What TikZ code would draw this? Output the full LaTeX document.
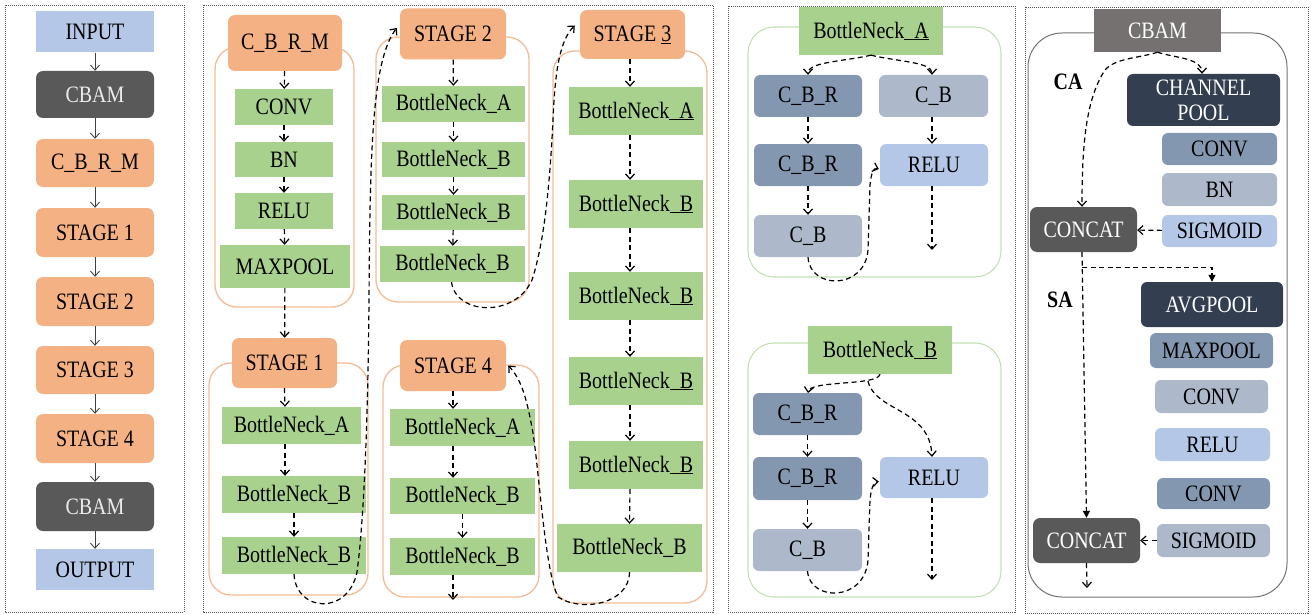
\documentclass[tikz,border=0pt]{standalone}
\usepackage{fontspec}
\setmainfont{Liberation Serif}[FakeStretch=0.85]
\usetikzlibrary{arrows.meta}

\definecolor{lblue}{HTML}{B4C7E7}
\definecolor{dgray}{HTML}{595959}
\definecolor{mgray}{HTML}{767171}
\definecolor{peach}{HTML}{F4B183}
\definecolor{peachline}{HTML}{F2BC96}
\definecolor{leaf}{HTML}{A9D18E}
\definecolor{leafline}{HTML}{C5E0B4}
\definecolor{slate}{HTML}{8497B0}
\definecolor{mist}{HTML}{ADB9CA}
\definecolor{navy}{HTML}{333F50}
\definecolor{frame}{HTML}{555555}

\tikzset{
  blk/.style={inner sep=0pt, font=\fontsize{23.5}{25}\selectfont, align=center, text=black},
  sz/.style 2 args={minimum width=#1pt, minimum height=#2pt},
  inout/.style={blk, fill=lblue},
  darkbox/.style={blk, fill=dgray, rounded corners=7pt, text=white},
  stagebox/.style={blk, fill=peach, rounded corners=7pt},
  layer/.style={blk, fill=leaf},
  slatebox/.style={blk, fill=slate, rounded corners=6pt},
  mistbox/.style={blk, fill=mist, rounded corners=6pt},
  skybox/.style={blk, fill=lblue, rounded corners=6pt},
  navybox/.style={blk, fill=navy, rounded corners=6pt, text=white},
  flow/.style={-{Straight Barb[length=5pt,width=9pt]}, line width=0.9pt, black!75},
  dflow/.style={-{Straight Barb[length=5pt,width=9pt]}, line width=1.2pt, black, dash pattern=on 5pt off 3.5pt},
  tflow/.style={-{Triangle[length=7pt,width=7pt]}, line width=1.2pt, black, dash pattern=on 5pt off 3.5pt},
  panel/.style={draw=frame, line width=0.8pt, dash pattern=on 1pt off 1pt},
  stagegroup/.style={draw=peachline, line width=1.3pt, rounded corners=22pt},
  blockgroup/.style={draw=leafline, line width=1.1pt, rounded corners=26pt},
  attgroup/.style={draw=black!55, line width=1pt, rounded corners=34pt},
  tag/.style={font=\fontsize{23.5}{25}\selectfont\bfseries, inner sep=0pt}
}

\begin{document}
\begin{tikzpicture}[x=1pt, y=-1pt]
\useasboundingbox (0,0) rectangle (1311,615);

% ---------- panel frames ----------
\draw[panel] (5,5) rectangle (184,612);
\draw[panel] (203,5) rectangle (713,612);
\draw[panel] (728,6) rectangle (1015,612);
\draw[panel] (1025,7) rectangle (1308,613);

% ---------- overall pipeline ----------
\node[inout, sz={118}{41}] (in) at (95,32) {INPUT};
\node[darkbox, sz={118}{47}, text=black!8] (cbA) at (95,94.5) {CBAM};
\node[stagebox, sz={118}{48}] (cbrm) at (95,163) {C\_B\_R\_M};
\node[stagebox, sz={118}{49}] (st1) at (95,232.5) {STAGE 1};
\node[stagebox, sz={118}{49}] (st2) at (95,301.5) {STAGE 2};
\node[stagebox, sz={118}{48}] (st3) at (95,370) {STAGE 3};
\node[stagebox, sz={118}{49}] (st4) at (95,438.5) {STAGE 4};
\node[darkbox, sz={118}{49}, text=black!8] (cbB) at (95,506.5) {CBAM};
\node[inout, sz={118}{41}] (out) at (95,569.5) {OUTPUT};
\foreach \a/\b in {in/cbA, cbA/cbrm, cbrm/st1, st1/st2, st2/st3, st3/st4, st4/cbB, cbB/out}
  \draw[flow] (\a) -- (\b);

% ---------- stage details: group outlines ----------
\draw[stagegroup] (215,47) rectangle (354,307);
\draw[stagegroup] (209,363) rectangle (368,595);
\draw[stagegroup] (376,37) rectangle (529,302);
\draw[stagegroup] (383,365) rectangle (539,597);
\draw[stagegroup] (553,51) rectangle (707,603);

% stem: C_B_R_M
\node[stagebox, sz={114}{56}] (hm) at (285,43) {C\_B\_R\_M};
\node[layer, sz={98}{36}] (mconv) at (284,107) {CONV};
\node[layer, sz={98}{35}] (mbn) at (284,159.5) {BN};
\node[layer, sz={98}{36}] (mrelu) at (284,211) {RELU};
\node[layer, sz={130}{43}] (mpool) at (285,266.5) {MAXPOOL};
\draw[dflow] (hm) -- (mconv);
\draw[dflow] (mconv) -- (mbn);
\draw[dflow] (mbn) -- (mrelu);
\draw[dflow] (mrelu) -- (mpool);

% STAGE 1
\node[stagebox, sz={105}{50}] (h1) at (284.5,363) {STAGE 1};
\node[layer, sz={139}{37}] (a1) at (291.5,425.5) {BottleNeck\_A};
\node[layer, sz={144}{37}] (b1a) at (294,494.5) {BottleNeck\_B};
\node[layer, sz={144}{37}] (b1b) at (294,555.5) {BottleNeck\_B};
\draw[dflow] (mpool) -- (h1);
\draw[dflow] (h1.south) -- ([xshift=-6.5pt]a1.north);
\draw[dflow] ([xshift=-6.5pt]a1.south) -- ([xshift=-9pt]b1a.north);
\draw[dflow] (b1a) -- (b1b);

% STAGE 2
\node[stagebox, sz={106}{51}] (h2) at (453,34) {STAGE 2};
\node[layer, sz={143}{36}] (a2) at (453.5,104) {BottleNeck\_A};
\node[layer, sz={143}{35}] (b2a) at (453.5,159.5) {BottleNeck\_B};
\node[layer, sz={143}{35}] (b2b) at (453.5,212.5) {BottleNeck\_B};
\node[layer, sz={145}{36}] (b2c) at (452.5,264) {BottleNeck\_B};
\draw[dflow] (h2) -- (a2);
\draw[dflow] (a2) -- (b2a);
\draw[dflow] (b2a) -- (b2b);
\draw[dflow] (b2b) -- (b2c);

% STAGE 3
\node[stagebox, sz={105}{49}] (h3) at (632.5,34.5) {STAGE \underline{3}};
\node[layer, sz={134}{48}] (a3) at (636,111) {BottleNeck\underline{\hphantom{\_}A}};
\node[layer, sz={134}{48}] (b3a) at (636,204) {BottleNeck\underline{\hphantom{\_}B}};
\node[layer, sz={134}{48}] (b3b) at (636,296) {BottleNeck\underline{\hphantom{\_}B}};
\node[layer, sz={134}{48}] (b3c) at (636,381) {BottleNeck\underline{\hphantom{\_}B}};
\node[layer, sz={134}{48}] (b3d) at (636,465) {BottleNeck\underline{\hphantom{\_}B}};
\node[layer, sz={145}{48}] (b3e) at (629.5,548) {BottleNeck\_B};
\draw[dflow] ([xshift=-2.5pt]h3.south) -- ([xshift=-6pt]a3.north);
\foreach \a/\b in {a3/b3a, b3a/b3b, b3b/b3c, b3c/b3d}
  \draw[dflow] ([xshift=-6pt]\a.south) -- ([xshift=-6pt]\b.north);
\draw[dflow] ([xshift=-6pt]b3d.south) -- (b3e.north);

% STAGE 4
\node[stagebox, sz={106}{51}] (h4) at (453,365.5) {STAGE 4};
\node[layer, sz={145}{37}] (a4) at (462.5,427.5) {BottleNeck\_A};
\node[layer, sz={145}{36}] (b4a) at (462.5,496) {BottleNeck\_B};
\node[layer, sz={145}{37}] (b4b) at (462.5,556.5) {BottleNeck\_B};
\coordinate (s4end) at (453,600);
\draw[dflow] (h4.south) -- ([xshift=-9.5pt]a4.north);
\draw[dflow] ([xshift=-9.5pt]a4.south) -- ([xshift=-9.5pt]b4a.north);
\draw[dflow] (b4a) -- (b4b);
\draw[dflow] ([xshift=-9.5pt]b4b.south) -- (s4end);

% links between stages
\draw[dflow] (b1b.south) .. controls (296,612) and (348,616) .. (357,572)
  .. controls (364,520) and (368,420) .. (369,300)
  .. controls (370,150) and (372,60) .. ([xshift=-3pt,yshift=6pt]h2.west);
\draw[dflow] ([xshift=-1pt]b2c.south) .. controls (456,315) and (515,318) .. (532,280)
  .. controls (545,240) and (550,180) .. (553,120)
  .. controls (555,70) and (560,40) .. ([xshift=-5pt,yshift=9pt]h3.west);
\draw[dflow] (b3e.south) .. controls (629,605) and (580,612) .. (558,597)
  .. controls (545,570) and (540,480) .. (533,433)
  .. controls (527,400) and (522,380) .. ([xshift=2pt]h4.east);

% ---------- BottleNeck_A ----------
\draw[blockgroup] (748,27) rectangle (1001,277);
\node[layer, sz={144}{48}] (bnA) at (871,31) {BottleNeck\underline{\hphantom{\_}A}};
\node[slatebox, sz={108}{42}] (ra1) at (808,96) {C\_B\_R};
\node[mistbox, sz={109}{42}] (ca1) at (933.5,96) {C\_B};
\node[slatebox, sz={108}{42}] (ra2) at (808,165) {C\_B\_R};
\node[skybox, sz={108}{42}] (ua) at (934,165) {RELU};
\node[mistbox, sz={108}{42}] (ca2) at (808,236) {C\_B};
\coordinate (uaend) at (932,250);
\draw[dflow] (bnA.south) .. controls (840,62) and (808,62) .. (ra1.north);
\draw[dflow] (bnA.south) .. controls (900,62) and (932,62) .. ([xshift=-1.5pt]ca1.north);
\draw[dflow] (ra1) -- (ra2);
\draw[dflow] ([xshift=-1.5pt]ca1.south) -- ([xshift=-2pt]ua.north);
\draw[dflow] (ra2) -- (ca2);
\draw[dflow] ([xshift=-2pt]ua.south) -- (uaend);
\draw[dflow] (ca2.south) .. controls (810,290) and (865,290) .. (868,250)
  -- (870,185) .. controls (871,175) and (873,167) .. ([xshift=-1pt,yshift=-4pt]ua.west);

% ---------- BottleNeck_B ----------
\draw[blockgroup] (748,343) rectangle (1001,597);
\node[layer, sz={144}{48}] (bnB) at (880,350) {BottleNeck\underline{\hphantom{\_}B}};
\node[slatebox, sz={109}{42}] (rb1) at (807.5,414) {C\_B\_R};
\node[slatebox, sz={109}{43}] (rb2) at (807.5,478.5) {C\_B\_R};
\node[mistbox, sz={109}{42}] (cb3) at (807.5,550) {C\_B};
\node[skybox, sz={108}{41}] (ub) at (934,477.5) {RELU};
\coordinate (ubend) at (932,580);
\draw[dflow] (bnB.south) .. controls (878,386) and (810,380) .. (808,393);
\draw[dflow] (868,381) .. controls (875,412) and (930,408) .. ([xshift=-2pt]ub.north);
\draw[dflow] (rb1) -- (rb2);
\draw[dflow] (rb2) -- (cb3);
\draw[dflow] ([xshift=-2pt]ub.south) -- (ubend);
\draw[dflow] (cb3.south) .. controls (810,602) and (865,602) .. (868,560)
  -- (870,500) .. controls (871,490) and (873,482) .. ([xshift=-1pt,yshift=-4pt]ub.west);

% ---------- CBAM ----------
\draw[attgroup] (1028,33) rectangle (1287,597);
\node[blk, fill=mgray, text=white, sz={127}{43}] (cbm) at (1157.5,30.5) {CBAM};
\node[tag] (ca) at (1068,82) {CA};
\node[tag] (sa) at (1060,300) {SA};
\node[navybox, sz={153}{52}, font=\fontsize{23.5}{25}\selectfont] (chp) at (1203.5,100) {CHANNEL\\POOL};
\node[slatebox, sz={115}{32}] (cv1) at (1219.5,149) {CONV};
\node[mistbox, sz={115}{33}] (bn1) at (1219.5,189.5) {BN};
\node[skybox, sz={115}{32}] (sg1) at (1219.5,231) {SIGMOID};
\node[darkbox, sz={107}{45}] (cc1) at (1083.5,229.5) {CONCAT};
\node[navybox, sz={142}{45}] (avg) at (1212,304.5) {AVGPOOL};
\node[slatebox, sz={123}{35}] (mxp) at (1211.5,350.5) {MAXPOOL};
\node[mistbox, sz={113}{33}] (cv2) at (1211.5,396.5) {CONV};
\node[skybox, sz={115}{33}] (rl) at (1212.5,444.5) {RELU};
\node[slatebox, sz={113}{31}] (cv3) at (1213.5,493.5) {CONV};
\node[mistbox, sz={113}{33}] (sg2) at (1213.5,540.5) {SIGMOID};
\node[darkbox, sz={107}{45}] (cc2) at (1086.5,540.5) {CONCAT};
\coordinate (cbend) at (1087,588);

\draw[dflow] (cbm.south) .. controls (1140,58) and (1115,58) .. (1105,70)
  .. controls (1085,100) and (1082,150) .. ([xshift=-1.5pt]cc1.north);
\draw[dflow] (cbm.south) .. controls (1175,58) and (1202,58) .. ([xshift=-1.5pt]chp.north);
\draw[dflow] (sg1) -- (cc1);
\draw[tflow] ([xshift=-1.5pt]cc1.south) -- (cc2.north);
\draw[tflow] ([xshift=-1.5pt,yshift=-15pt]cc1.south) -| (avg.north);
\draw[dflow] (sg2) -- (cc2);
\draw[dflow] (cc2.south) -- (cbend);
\end{tikzpicture}
\end{document}
